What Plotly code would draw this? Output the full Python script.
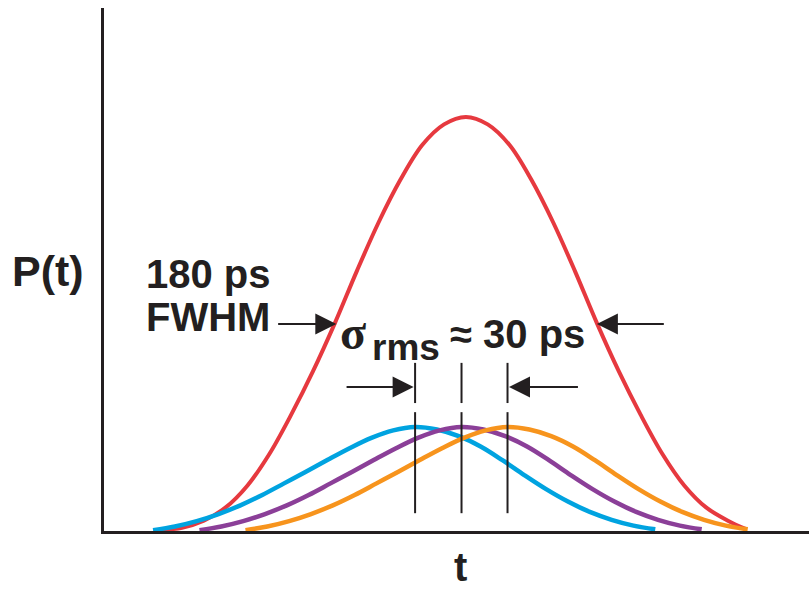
import plotly.graph_objects as go

# Long pulse, time in ps, power normalised to its peak
long_t = [-207, -192, -177, -162, -147, -132, -117, -102, -87, -72, -57, -42, -27, -12, 3,
          18, 33, 48, 63, 78, 93, 108, 123, 138, 153, 168, 183, 195]
long_p = [0.002, 0.008, 0.025, 0.057, 0.110, 0.186, 0.281, 0.386, 0.502, 0.627, 0.745, 0.848,
          0.932, 0.982, 1.0, 0.982, 0.932, 0.848, 0.745, 0.627, 0.502, 0.386, 0.281, 0.186,
          0.110, 0.057, 0.025, 0.005]

# Short pulse profile, time relative to its own peak
short_t = [-180, -165, -150, -135, -120, -105, -90, -75, -60, -45, -30, -15, 0,
           15, 30, 45, 60, 75, 90, 105, 120, 135, 150, 165]
short_p = [0.002, 0.011, 0.024, 0.041, 0.062, 0.087, 0.115, 0.143, 0.172, 0.200, 0.225, 0.243,
           0.251, 0.245, 0.229, 0.204, 0.171, 0.135, 0.101, 0.071, 0.046, 0.027, 0.013, 0.004]

# Arrival times of the jittered short pulses (ps)
arrivals = [-31.9, 0.0, 31.6]
short_colors = ["#00a3e0", "#8b3f98", "#f7941d"]

INK = "#231f20"
FONT = "Liberation Sans, Arial, Helvetica, sans-serif"

fig = go.Figure()

fig.add_trace(go.Scatter(x=long_t, y=long_p, mode="lines", line_shape="spline",
                         line=dict(color="#e6393f", width=4), hoverinfo="skip"))

for t0, col in zip(arrivals, short_colors):
    fig.add_trace(go.Scatter(x=[t0 + v for v in short_t], y=short_p, mode="lines",
                             line_shape="spline", line=dict(color=col, width=4.5),
                             hoverinfo="skip"))

# Marker lines at each arrival time
for t0 in arrivals:
    fig.add_trace(go.Scatter(x=[t0, t0, None, t0, t0], y=[0.406, 0.309, None, 0.287, 0.043],
                             mode="lines", line=dict(color=INK, width=2), hoverinfo="skip"))

arrow = dict(showarrow=True, arrowhead=2, arrowsize=2.1, arrowwidth=2, arrowcolor=INK,
             axref="x", ayref="y", text="", standoff=0)
annotations = [
    dict(x=-86, y=0.5, ax=-127, ay=0.5, **arrow),
    dict(x=93, y=0.5, ax=140, ay=0.5, **arrow),
    dict(x=-32.9, y=0.348, ax=-80, ay=0.348, **arrow),
    dict(x=32.6, y=0.348, ax=81, ay=0.348, **arrow),
]

def label(text, x, y, size, xanchor="left", family=FONT, ref="x"):
    return dict(text=f"<b>{text}</b>", x=x, y=y,
                xref=ref if ref == "x" else "paper", yref="y" if ref == "x" else "paper",
                showarrow=False, xanchor=xanchor, yanchor="middle",
                font=dict(family=family, size=size, color=INK))

annotations += [
    label("180 ps", -218, 0.621, 40),
    label("FWHM", -218, 0.517, 40),
    label("σ", -74.5, 0.48, 48, xanchor="center", family="Liberation Serif, Times New Roman, serif"),
    label("rms", -63, 0.444, 37),
    label("≈ 30 ps", -9, 0.476, 40),
    label("P(t)", -0.133, 0.497, 43, ref="paper"),
    label("t", 0.505, -0.069, 40, xanchor="center", ref="paper"),
]

fig.update_layout(
    width=809, height=592,
    margin=dict(l=104, r=0, t=8, b=61),
    paper_bgcolor="white", plot_bgcolor="white",
    showlegend=False,
    xaxis=dict(range=[-245.6, 238.7], showgrid=False, zeroline=False, showticklabels=False,
               ticks="", showline=True, linecolor=INK, linewidth=2.5),
    yaxis=dict(range=[0, 1.263], showgrid=False, zeroline=False, showticklabels=False,
               ticks="", showline=True, linecolor=INK, linewidth=2.5),
    annotations=annotations,
)

fig.write_html("out.html")
